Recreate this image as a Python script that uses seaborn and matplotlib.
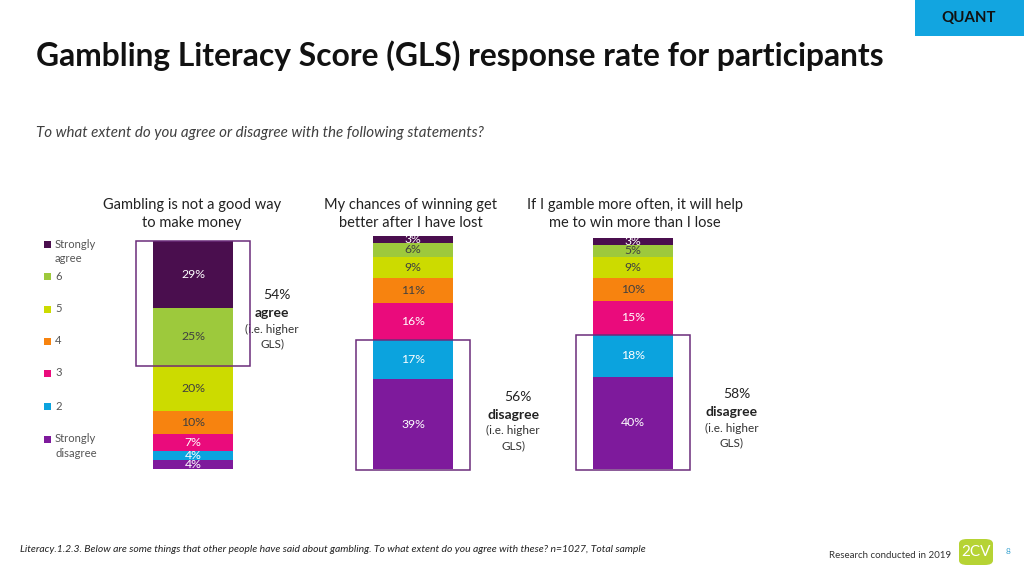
import seaborn as sns
import matplotlib
matplotlib.use("Agg")
import matplotlib.pyplot as plt
import pandas as pd
from matplotlib.patches import Rectangle, FancyBboxPatch

# response levels, bottom of the stack first
levels = ["Strongly disagree", "2", "3", "4", "5", "6", "Strongly agree"]
statements = ["Gambling is not a good way\nto make money",
              "My chances of winning get\nbetter after I have lost",
              "If I gamble more often, it will help\nme to win more than I lose"]
not_good_way = [4, 4, 7, 10, 20, 25, 29]
chances_better = [39, 17, 16, 11, 9, 6, 3]
gamble_more = [40, 18, 15, 10, 9, 5, 3]
summary_pct = ["54%", "56%", "58%"]
summary_word = ["agree", "disagree", "disagree"]
boxed_levels = [["6", "Strongly agree"], ["Strongly disagree", "2"], ["Strongly disagree", "2"]]

level_colors = {"Strongly disagree": "#7E1A9C", "2": "#0BA3DE", "3": "#EA0B7C",
                "4": "#F7830F", "5": "#CCDB00", "6": "#9DC93C",
                "Strongly agree": "#4A0E4E"}
label_colors = {"Strongly disagree": "white", "2": "white", "3": "white",
                "4": "#404040", "5": "#404040", "6": "#404040",
                "Strongly agree": "white"}

rows = []
for st, vals in zip(statements, [not_good_way, chances_better, gamble_more]):
    cum = 0
    for lv, v in zip(levels, vals):
        rows.append({"statement": st, "level": lv, "pct": v, "bottom": cum, "cum": cum + v})
        cum += v
df = pd.DataFrame(rows)

sns.set_theme(style="white")
plt.rcParams['font.family'] = ['Lato', 'DejaVu Sans']

W, H = 1024, 576
fig = plt.figure(figsize=(W / 100, H / 100), dpi=100)


def fx(px):
    return px / W


def fy(py):
    return 1 - py / H


ax = fig.add_axes([fx(81), fy(469), fx(700), 233 / H])
bar_w = 0.36
# classic seaborn stacking: draw the cumulative heights from the top level down
for lv in reversed(levels):
    sub = df[df["level"] == lv]
    sns.barplot(data=sub, x="statement", y="cum", order=statements, color=level_colors[lv],
                saturation=1, width=bar_w, errorbar=None, ax=ax, linewidth=0)

ax.set_xlim(-(192 - 80) / 220, (780 - 192) / 220)
ax.set_ylim(0, 101)
ax.axis("off")

# segment labels
title_dx = [-0.005, -0.01, 0.01]
for i, st in enumerate(statements):
    sub = df[df["statement"] == st]
    for _, r in sub.iterrows():
        ax.text(i, r["bottom"] + r["pct"] / 2, f"{r['pct']}%", ha="center", va="center",
                fontsize=8.8, color=label_colors[r["level"]])
    ax.text(i + title_dx[i], 1.095, st, transform=ax.get_xaxis_transform(), ha="center",
            va="center", fontsize=10.5, color="#222222", linespacing=1.35)

# boxes + summary text
text_dx = [0.36, 0.455, 0.45]
for i, st in enumerate(statements):
    sub = df[(df["statement"] == st) & (df["level"].isin(boxed_levels[i]))]
    y0, y1 = sub["bottom"].min(), sub["cum"].max()
    ax.add_patch(Rectangle((i - 0.26, y0 - 0.4), 0.52, y1 - y0 + 0.4, fill=False,
                           edgecolor="#6B2C7A", linewidth=1.1, clip_on=False, zorder=5))
    mid = (y0 + y1) / 2
    xt = i + text_dx[i]
    ax.text(xt + 0.02, mid + 3.3, summary_pct[i], ha="center", va="center", fontsize=10,
            color="#222222")
    ax.text(xt, mid - 4.4, summary_word[i], ha="center", va="center", fontsize=10,
            fontweight="bold", color="#222222")
    ax.text(xt, mid - 11.5, "(i.e. higher", ha="center", va="center", fontsize=8.5, color="#333333")
    ax.text(xt, mid - 17.8, "GLS)", ha="center", va="center", fontsize=8.5, color="#333333")

# legend, top level first
legend_y = {"Strongly agree": 244, "6": 276, "5": 309, "4": 341, "3": 373, "2": 406,
            "Strongly disagree": 439}
for lv in levels:
    py = legend_y[lv]
    fig.patches.append(Rectangle((fx(44), fy(py + 3.5)), 7 / W, 7 / H, transform=fig.transFigure,
                                 facecolor=level_colors[lv], edgecolor="none"))
    name = lv.replace("Strongly ", "Strongly\n")
    fig.text(fx(55), fy(py - 5.5), name, ha="left", va="top", fontsize=8.1, color="#555555",
             linespacing=1.35)

# header
fig.text(fx(36), fy(56), "Gambling Literacy Score (GLS) response rate for participants",
         ha="left", va="center", fontsize=22.9, fontweight="bold", color="#111111")
fig.text(fx(36), fy(133), "To what extent do you agree or disagree with the following statements?",
         ha="left", va="center", fontsize=10.9, style="italic", color="#404040")
fig.patches.append(Rectangle((fx(915), fy(36)), 109 / W, 36 / H, transform=fig.transFigure,
                             facecolor="#12A5E0", edgecolor="none"))
fig.text(fx(969), fy(18), "QUANT", ha="center", va="center", fontsize=10.8, fontweight="bold",
         color="#111111")

# footer
fig.text(fx(20), fy(550), "Literacy.1.2.3. Below are some things that other people have said about gambling. "
         "To what extent do you agree with these? n=1027, Total sample",
         ha="left", va="center", fontsize=7.5, style="italic", color="#222222")
fig.text(fx(829), fy(556), "Research conducted in 2019", ha="left", va="center", fontsize=7,
         color="#333333")
fig.patches.append(FancyBboxPatch((fx(959), fy(565)), 34 / W, 26 / H, transform=fig.transFigure,
                                  boxstyle="round,pad=0,rounding_size=0.008",
                                  facecolor="#B6D334", edgecolor="none"))
fig.text(fx(976), fy(552), "2CV", ha="center", va="center", fontsize=11, color="white")
fig.text(fx(1008), fy(551), "8", ha="center", va="center", fontsize=6, color="#3BA3D0")

fig.savefig("out.png", dpi=100)
